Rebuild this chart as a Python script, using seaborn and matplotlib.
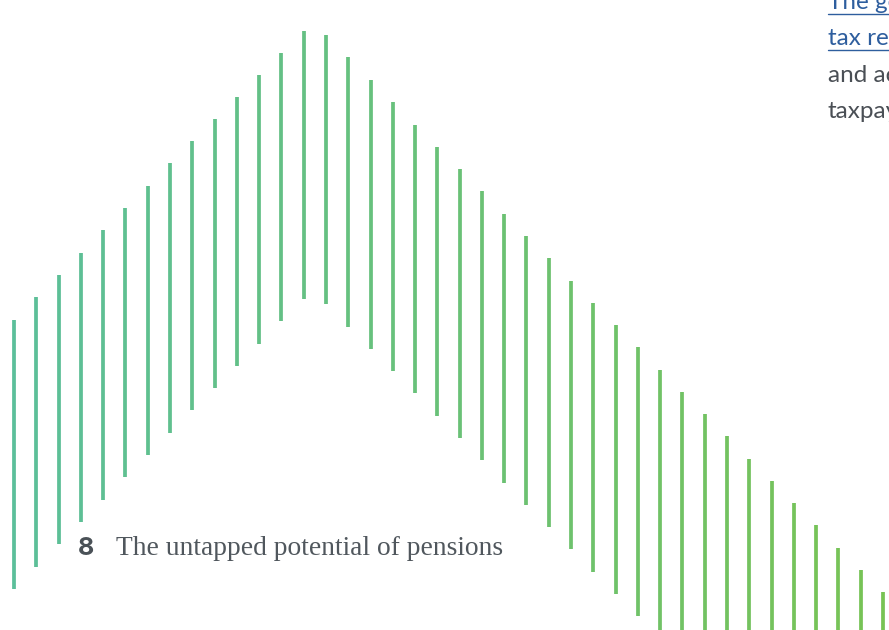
import numpy as np
import pandas as pd
import matplotlib
matplotlib.use("Agg")
import matplotlib.pyplot as plt
import seaborn as sns

# ---- data ----
bar_index = list(range(40))
tops = [320, 297, 275, 253, 230, 208, 186, 163, 141, 119, 97, 75, 53, 31,
        35, 57, 80, 102, 125, 147, 169, 191, 214, 236, 258, 281, 303, 325,
        347, 370, 392, 414, 436, 459, 481, 503, 525, 548, 570, 592]
bottoms = [589, 567, 544, 522, 500, 477, 455, 433, 410, 388, 366, 344, 321, 299,
           304, 327, 349, 371, 393, 416, 438, 460, 483, 505, 527, 549, 572, 594,
           616, 639, 661, 683, 705, 728, 750, 772, 794, 817, 839, 861]
side_lines = ["The government's", "tax relief", "and actual", "taxpayers"]
page_number = "8"
page_title = "The untapped potential of pensions"

# ---- long-form table for seaborn ----
df = pd.DataFrame({
    "bar": bar_index * 2,
    "y": tops + bottoms,
})

sns.set_theme(style="white")
plt.rcParams["font.family"] = ["Inter", "DejaVu Sans"]

fig = plt.figure(figsize=(8.89, 6.30), dpi=100)
ax = fig.add_axes([0, 0, 1, 1])

palette = sns.blend_palette(["#5BBF9A", "#78C354"], n_colors=len(bar_index))
sns.lineplot(data=df, x="bar", y="y", hue="bar", units="bar", estimator=None,
             palette=palette, linewidth=2.7, legend=False, ax=ax,
             solid_capstyle="butt")

ax.set_xlim(-0.628, 39.27)
ax.set_ylim(630, 0)
ax.axis("off")

# ---- texts ----
fig.text(78 / 889, 1 - 555 / 630, page_number, fontsize=18, fontweight="bold",
         color="#4A5157", family=["Inter", "DejaVu Sans"], va="baseline")
fig.text(116 / 889, 1 - 555 / 630, page_title, fontsize=19.8,
         color="#50575D", family=["Liberation Serif"], va="baseline")

baselines = [9, 45, 82, 118]
colors = ["#2E5E9E", "#2E5E9E", "#4A4F55", "#4A4F55"]
for txt, b, c in zip(side_lines, baselines, colors):
    fig.text(828 / 889, 1 - b / 630, txt, fontsize=17.5, color=c,
             family=["Lato", "DejaVu Sans"], va="baseline")
for b in baselines[:2]:
    fig.add_artist(plt.Line2D([828 / 889, 1.0], [1 - (b + 5) / 630] * 2,
                              color="#2E5E9E", linewidth=1.0))

fig.savefig("out.png", dpi=100)
